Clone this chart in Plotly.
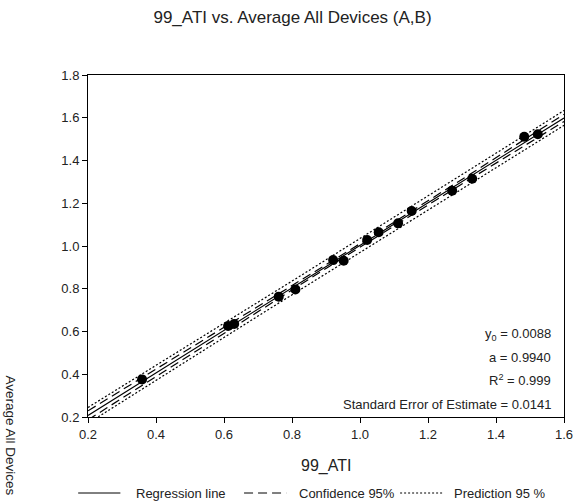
import numpy as np
import plotly.graph_objects as go

# Measured pairs: 99_ATI (x) vs Average All Devices (y)
ati_99 = [0.359, 0.612, 0.630, 0.761, 0.810, 0.921, 0.952, 1.021,
          1.055, 1.112, 1.152, 1.271, 1.330, 1.483, 1.523]
avg_all = [0.376, 0.626, 0.635, 0.763, 0.797, 0.934, 0.931, 1.028,
           1.064, 1.106, 1.164, 1.259, 1.315, 1.511, 1.523]

# Regression parameters reported on the chart
y0 = 0.0088
slope = 0.9940
r_squared = 0.999
std_err = 0.0141

x_ticks = [0.2, 0.4, 0.6, 0.8, 1.0, 1.2, 1.4, 1.6]
y_ticks = [0.2, 0.4, 0.6, 0.8, 1.0, 1.2, 1.4, 1.6, 1.8]

FONT = "Liberation Sans, Arial, sans-serif"

x = np.array(ati_99)
n = len(x)
xbar = x.mean()
sxx = ((x - xbar) ** 2).sum()
t_crit = 2.160  # t(0.975, n-2 = 13)

xs = np.linspace(x_ticks[0], x_ticks[-1], 200)
fit = y0 + slope * xs
conf = t_crit * std_err * np.sqrt(1 / n + (xs - xbar) ** 2 / sxx)
pred = t_crit * std_err * np.sqrt(1 + 1 / n + (xs - xbar) ** 2 / sxx)

fig = go.Figure()

for lo_hi in (fit - pred, fit + pred):
    fig.add_trace(go.Scatter(x=xs, y=lo_hi, mode="lines",
                             line=dict(color="black", width=1.2, dash="2px,2px"),
                             showlegend=False, hoverinfo="skip"))
for lo_hi in (fit - conf, fit + conf):
    fig.add_trace(go.Scatter(x=xs, y=lo_hi, mode="lines",
                             line=dict(color="black", width=1.2, dash="9px,5px"),
                             showlegend=False, hoverinfo="skip"))
fig.add_trace(go.Scatter(x=xs, y=fit, mode="lines",
                         line=dict(color="black", width=1.2),
                         showlegend=False, hoverinfo="skip"))
fig.add_trace(go.Scatter(x=ati_99, y=avg_all, mode="markers",
                         marker=dict(color="black", size=10),
                         showlegend=False))

axis_common = dict(
    showline=True, linecolor="black", linewidth=1, mirror=True,
    ticks="outside", ticklen=5, tickcolor="black", tickwidth=1,
    showgrid=False, zeroline=False,
    tickfont=dict(family=FONT, size=13, color="#222"),
)
fig.update_xaxes(range=[x_ticks[0], x_ticks[-1]], tickvals=x_ticks,
                 ticktext=[f"{v:.1f}" for v in x_ticks], **axis_common)
fig.update_yaxes(range=[y_ticks[0], y_ticks[-1]], tickvals=y_ticks,
                 ticktext=[f"{v:.1f}" for v in y_ticks], **axis_common)

# Plot area geometry in pixels (used to place paper-space text)
W, H = 585, 502
L, R, T, B = 88, 12, 75, 85
pw, ph = W - L - R, H - T - B


def px_x(p):
    return (p - L) / pw


def px_y(p):
    return (H - B - p) / ph


annotations = []
stats = [
    (f"y<sub>0</sub> = {y0:.4f}", 334),
    (f"a = {slope:.4f}", 357),
    (f"R<sup>2</sup> = {r_squared:.3f}", 380),
    (f"Standard Error of Estimate = {std_err:.4f}", 404),
]
for txt, py in stats:
    annotations.append(dict(
        x=px_x(562), y=px_y(py), xref="paper", yref="paper",
        text=txt, showarrow=False, xanchor="right", yanchor="middle",
        font=dict(family=FONT, size=13, color="#222")))

annotations.append(dict(
    x=px_x(331), y=px_y(466), xref="paper", yref="paper", text="99_ATI",
    showarrow=False, xanchor="center", yanchor="middle",
    font=dict(family=FONT, size=16, color="#222")))
annotations.append(dict(
    x=px_x(10), y=px_y(436), xref="paper", yref="paper",
    text="Average All Devices", textangle=90, showarrow=False,
    xanchor="center", yanchor="middle",
    font=dict(family=FONT, size=13.5, color="#222")))

# Legend drawn below the axis
legend_items = [
    ("Regression line", "solid", 78, 121, 135),
    ("Confidence 95%", "9px,5px", 247, 290, 301),
    ("Prediction 95 %", "2px,2px", 406, 450, 459),
]
shapes = []
ly = px_y(493)
for label, dash, x0p, x1p, tx in legend_items:
    shapes.append(dict(type="line", xref="paper", yref="paper",
                       x0=px_x(x0p), x1=px_x(x1p), y0=ly, y1=ly,
                       line=dict(color="black", width=1, dash=dash)))
    annotations.append(dict(
        x=px_x(tx), y=ly, xref="paper", yref="paper", text=label,
        showarrow=False, xanchor="left", yanchor="middle",
        font=dict(family=FONT, size=13, color="#222")))

fig.update_layout(
    width=W, height=H,
    margin=dict(l=L, r=R, t=T, b=B),
    paper_bgcolor="white", plot_bgcolor="white",
    title=dict(text="99_ATI vs. Average All Devices (A,B)",
               x=0.5, xanchor="center", y=1 - 17 / H, yanchor="middle",
               font=dict(family=FONT, size=17, color="#222")),
    annotations=annotations, shapes=shapes,
    showlegend=False,
)

fig.write_html("out.html")
